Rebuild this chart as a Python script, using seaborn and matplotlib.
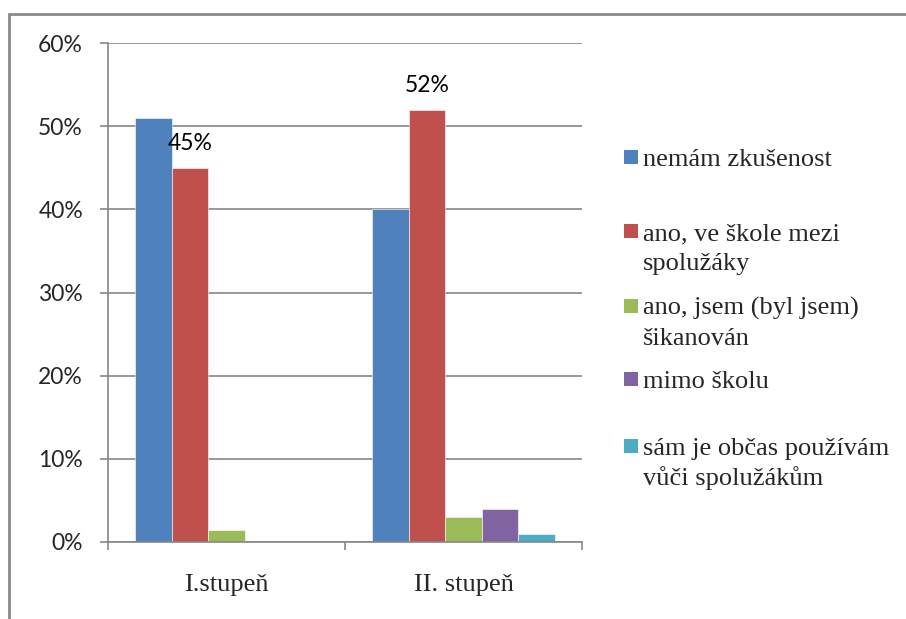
import pandas as pd
import seaborn as sns
import matplotlib.pyplot as plt
from matplotlib.patches import Rectangle
from matplotlib.ticker import PercentFormatter

# data (share of pupils)
stages = ['I.stupeň', 'II. stupeň']
answers = [
    'nemám zkušenost',
    'ano, ve škole mezi\nspolužáky',
    'ano, jsem (byl jsem)\nšikanován',
    'mimo školu',
    'sám je občas používám\nvůči spolužákům',
]
stage1 = [0.51, 0.45, 0.015, 0.0, 0.0]
stage2 = [0.40, 0.52, 0.03, 0.04, 0.01]
red_labels = ['45%', '52%']
colors = ['#4F81BD', '#C0504D', '#9BBB59', '#8064A2', '#4BACC6']

df = pd.DataFrame({
    'stupen': [stages[0]] * 5 + [stages[1]] * 5,
    'odpoved': answers * 2,
    'podil': stage1 + stage2,
})

sns.set_style('white')
grid_col = '#868686'

fig = plt.figure(figsize=(9.06, 6.19), dpi=100)
ax = fig.add_axes([108 / 906, 1 - 542 / 619, (582 - 108) / 906, (542 - 43) / 619])

sns.barplot(data=df, x='stupen', y='podil', hue='odpoved', hue_order=answers,
            palette=colors, width=0.77, saturation=1, legend=False, ax=ax,
            edgecolor='white', linewidth=0.4)

ax.bar_label(ax.containers[1], labels=red_labels, padding=10,
             fontsize=16.5, family='Lato', color='black')

ax.set_ylim(0, 0.6)
ax.set_yticks([i / 10 for i in range(7)])
ax.yaxis.set_major_formatter(PercentFormatter(1.0, decimals=0))
ax.set_xlim(-0.5, 1.5)
ax.set_xticks([-0.5, 0.5, 1.5], minor=True)
ax.set_xlabel('')
ax.set_ylabel('')

ax.yaxis.grid(True, color=grid_col, lw=1.2)
ax.set_axisbelow(True)
for s in ['top', 'right']:
    ax.spines[s].set_visible(False)
for s in ['left', 'bottom']:
    ax.spines[s].set_color(grid_col)
    ax.spines[s].set_linewidth(1.2)

ax.tick_params(axis='y', which='major', left=True, length=6, width=1.2,
               color=grid_col, pad=12, labelsize=16.5)
for lab in ax.get_yticklabels():
    lab.set_family('Lato')
ax.tick_params(axis='x', which='major', length=0, pad=23, labelsize=19)
ax.tick_params(axis='x', which='minor', bottom=True, length=6, width=1.2, color=grid_col)
for lab in ax.get_xticklabels():
    lab.set_family('Liberation Serif')

# legend on the right, drawn like the spreadsheet one
baselines = [166, 240, 315, 388, 455]
line_step = 30
for name, col, yb in zip(answers, colors, baselines):
    fig.patches.append(Rectangle((624 / 906, 1 - (yb - 2) / 619), 14 / 906, 14 / 619,
                                 transform=fig.transFigure, facecolor=col,
                                 edgecolor='none'))
    for i, line in enumerate(name.split('\n')):
        fig.text(643 / 906, 1 - (yb + i * line_step) / 619, line,
                 family='Liberation Serif', fontsize=19, va='baseline', ha='left')

# outer chart border (only left and top visible in the crop)
fig.patches.append(Rectangle((9 / 906, -0.2), 1.5, 1.2 - 14 / 619,
                             transform=fig.transFigure, fill=False,
                             edgecolor='#8a8a8a', lw=2))

fig.savefig('out.png', dpi=100)
